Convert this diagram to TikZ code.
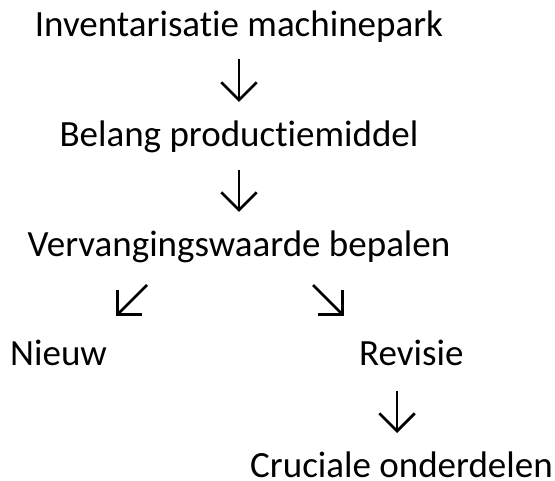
\documentclass[tikz,border=0pt]{standalone}
\usepackage{fontspec}
\setmainfont{Carlito}[Ligatures={NoCommon,NoRare}]
\usetikzlibrary{arrows.meta}

\tikzset{
  lbl/.style={anchor=base,inner sep=0pt,font=\fontsize{37}{42}\selectfont},
  arr/.style={line width=2.7pt,-{Straight Barb[angle=90:25pt]}}
}

\begin{document}
\begin{tikzpicture}[x=1pt,y=1pt]
\useasboundingbox (0,0) rectangle (555,-481);
% steps
\node[lbl] (inv) at (239,-37) {Inventarisatie machinepark};
\node[lbl] (bel) at (239,-147) {Belang productiemiddel};
\node[lbl] (verv) at (239,-257) {Vervangingswaarde bepalen};
\node[lbl,anchor=base west] (nieuw) at (10,-366) {Nieuw};
\node[lbl,anchor=base west] (rev) at (359,-366) {Revisie};
\node[lbl,anchor=base west] (cruc) at (250,-477) {Cruciale onderdelen};
% arrow ends
\coordinate (a1s) at (239,-59);
\coordinate (a1e) at (239,-102);
\coordinate (a2s) at (239,-170);
\coordinate (a2e) at (239,-212);
\coordinate (a3s) at (147,-285);
\coordinate (a3e) at (116,-316);
\coordinate (a4s) at (313,-285);
\coordinate (a4e) at (344,-316);
\coordinate (a5s) at (397,-391);
\coordinate (a5e) at (397,-433);
\draw[arr] (a1s) -- (a1e);
\draw[arr] (a2s) -- (a2e);
\draw[arr] (a3s) -- (a3e);
\draw[arr] (a4s) -- (a4e);
\draw[arr] (a5s) -- (a5e);
\end{tikzpicture}
\end{document}
